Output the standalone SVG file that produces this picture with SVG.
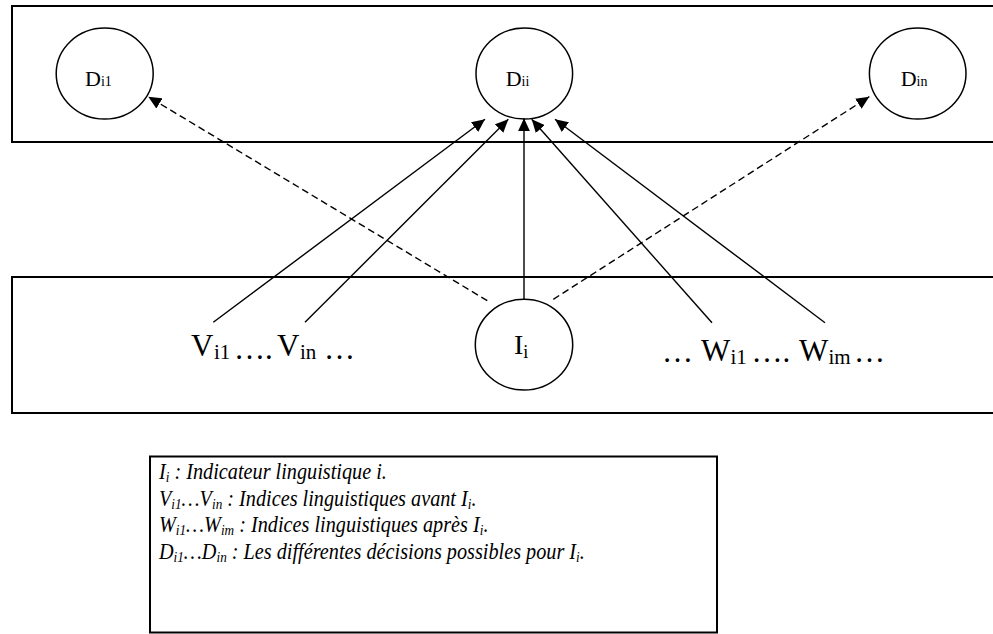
<svg xmlns="http://www.w3.org/2000/svg" width="993" height="634" viewBox="0 0 993 634">
<style>
.frame{fill:none;stroke:#000;stroke-width:2}
.node{fill:#fff;stroke:#000;stroke-width:1.5}
.t{font-family:"Liberation Serif","Times New Roman",serif;fill:#000}
.lg{font-family:"Liberation Serif","Times New Roman",serif;font-style:italic;font-size:23px;fill:#000}
.edge{stroke:#000;stroke-width:1.4;fill:none}
.dash{stroke-dasharray:7 4}
</style>
<defs>
<marker id="ah" markerUnits="userSpaceOnUse" markerWidth="14" markerHeight="12" refX="13" refY="6" orient="auto">
<path d="M0,0 L13,6 L0,12 Z" fill="#000"/>
</marker>
</defs>
<rect width="993" height="634" fill="#fff"/>
<rect class="frame" x="12" y="6" width="1000" height="136"/>
<rect class="frame" x="12" y="277" width="1000" height="136"/>
<g id="D_i1">
<ellipse class="node" cx="104.7" cy="73.6" rx="48.5" ry="45.5"/>
<text class="t" x="85" y="86" font-size="22">D<tspan font-size="14">i1</tspan></text>
</g>
<g id="D_ii">
<ellipse class="node" cx="524.3" cy="73.5" rx="48.3" ry="45.5"/>
<text class="t" x="505.7" y="86" font-size="22">D<tspan font-size="14">ii</tspan></text>
</g>
<g id="D_in">
<ellipse class="node" cx="917.7" cy="73.5" rx="48.3" ry="45.5"/>
<text class="t" x="900.7" y="86" font-size="22">D<tspan font-size="14">in</tspan></text>
</g>
<g id="I_i">
<ellipse class="node" cx="524" cy="344.7" rx="48.7" ry="45.4"/>
<text class="t" x="514" y="354" font-size="28">I<tspan font-size="18" dy="4">i</tspan></text>
</g>
<g id="V">
<text class="t" x="191" y="356" font-size="31">V</text>
<text class="t" x="214" y="359" font-size="21">i1</text>
<text class="t" x="234" y="359" font-size="31">….</text>
<text class="t" x="277" y="356" font-size="31">V</text>
<text class="t" x="300" y="359" font-size="21">in</text>
<text class="t" x="324" y="359" font-size="31">…</text>
</g>
<g id="W">
<text class="t" x="662" y="362" font-size="31">…</text>
<text class="t" x="701" y="361" font-size="31">W</text>
<text class="t" x="730.5" y="364" font-size="21">i1</text>
<text class="t" x="751.5" y="362" font-size="31">….</text>
<text class="t" x="799" y="361" font-size="31">W</text>
<text class="t" x="828.5" y="364" font-size="21">im</text>
<text class="t" x="854" y="362" font-size="31">…</text>
</g>
<g id="connectors">
<line class="edge" x1="213.3" y1="322.3" x2="485" y2="119.3" marker-end="url(#ah)"/>
<line class="edge" x1="305" y1="322.3" x2="508.3" y2="119.3" marker-end="url(#ah)"/>
<line class="edge" x1="524" y1="299.3" x2="524" y2="118.3" marker-end="url(#ah)"/>
<line class="edge" x1="712" y1="322.7" x2="531.7" y2="119.3" marker-end="url(#ah)"/>
<line class="edge" x1="825" y1="322.7" x2="555" y2="119.3" marker-end="url(#ah)"/>
<line class="edge dash" x1="487.3" y1="300.7" x2="148.3" y2="96.7" marker-end="url(#ah)"/>
<line class="edge dash" x1="553.3" y1="299.3" x2="869.3" y2="96.7" marker-end="url(#ah)"/>
</g>
<g id="legend">
<rect class="frame" x="150" y="456.5" width="567" height="176"/>
<g transform="translate(159,0) scale(0.88,1) translate(-159,0)">
<text class="lg" x="159" y="479">I<tspan font-size="15" dy="3">i</tspan><tspan dy="-3"> : Indicateur linguistique i.</tspan></text>
<text class="lg" x="159" y="506">V<tspan font-size="15" dy="3">i1</tspan><tspan dy="-3">…V</tspan><tspan font-size="15" dy="3">in</tspan><tspan dy="-3"> : Indices linguistiques avant I</tspan><tspan font-size="15" dy="3">i</tspan><tspan dy="-3">.</tspan></text>
<text class="lg" x="159" y="532">W<tspan font-size="15" dy="3">i1</tspan><tspan dy="-3">…W</tspan><tspan font-size="15" dy="3">im</tspan><tspan dy="-3"> : Indices linguistiques après I</tspan><tspan font-size="15" dy="3">i</tspan><tspan dy="-3">.</tspan></text>
<text class="lg" x="159" y="559">D<tspan font-size="15" dy="3">i1</tspan><tspan dy="-3">…D</tspan><tspan font-size="15" dy="3">in</tspan><tspan dy="-3"> : Les différentes décisions possibles pour I</tspan><tspan font-size="15" dy="3">i</tspan><tspan dy="-3">.</tspan></text>
</g>
</g>
</svg>
